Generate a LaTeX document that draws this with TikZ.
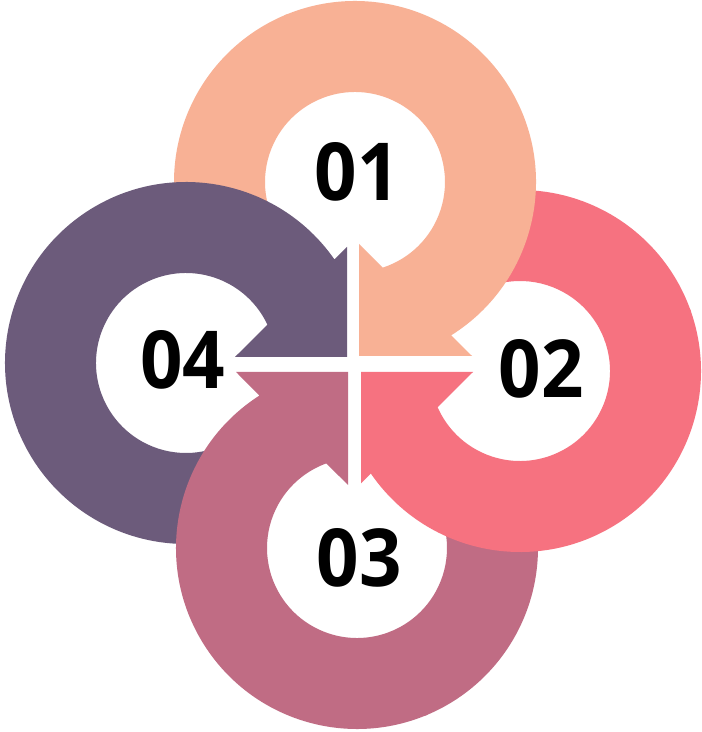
\documentclass[tikz,border=0pt]{standalone}
\usepackage{fontspec}
\usepackage{graphicx}
\setmainfont{Open Sans}
\usetikzlibrary{calc}
\definecolor{cpeach}{HTML}{F8B195}
\definecolor{cpink}{HTML}{F67280}
\definecolor{cberry}{HTML}{C06C84}
\definecolor{cplum}{HTML}{6C5B7B}
\newcommand{\numtxt}[1]{\scalebox{0.93}[1]{#1}}
\begin{document}
\begin{tikzpicture}[x=1pt,y=1pt,
  lbl/.style={font=\fontsize{80}{80}\selectfont\bfseries, text=black, inner sep=0pt}]
\fill[white] (0,0) rectangle (702,732);
\useasboundingbox (0,0) rectangle (702,732);
% ring centres
\coordinate (c1) at (355,550);
\coordinate (c2) at (520,361);
\coordinate (c3) at (357,184);
\coordinate (c4) at (186,369);
% ---------- tails (drawn first, hidden under the next ring) ----------
\fill[cpeach] ($(c1)+(112:181pt)$) arc[start angle=112,end angle=203,radius=181pt]
  -- ($(c1)+(203:90pt)$) arc[start angle=203,end angle=112,radius=90pt] -- cycle;
\fill[cpink] ($(c2)+(379:181pt)$) arc[start angle=379,end angle=470,radius=181pt]
  -- ($(c2)+(470:90pt)$) arc[start angle=470,end angle=379,radius=90pt] -- cycle;
\fill[cberry] ($(c3)+(292:181pt)$) arc[start angle=292,end angle=383,radius=181pt]
  -- ($(c3)+(383:90pt)$) arc[start angle=383,end angle=292,radius=90pt] -- cycle;
\fill[cplum] ($(c4)+(202:181pt)$) arc[start angle=202,end angle=293,radius=181pt]
  -- ($(c4)+(293:90pt)$) arc[start angle=293,end angle=202,radius=90pt] -- cycle;
% ---------- heads with arrow tips at the centre ----------
% 01
\fill[cpeach] ($(c1)+(-57.9:181pt)$) arc[start angle=-57.9,end angle=113,radius=181pt]
  -- ($(c1)+(113:90pt)$) arc[start angle=113,end angle=-72.1,radius=90pt]
  -- (359,488) -- (359,376) -- (472,376) -- cycle;
% 02
\fill[cpink] ($(c2)+(214.5:181pt)$) arc[start angle=214.5,end angle=380,radius=181pt]
  -- ($(c2)+(380:90pt)$) arc[start angle=380,end angle=203.8,radius=90pt]
  -- (473,360) -- (361,360) -- (361,248.7) -- cycle;
% 03
\fill[cberry] ($(c3)+(122.6:181pt)$) arc[start angle=122.6,end angle=293,radius=181pt]
  -- ($(c3)+(293:90pt)$) arc[start angle=293,end angle=109.9,radius=90pt]
  -- (348,247) -- (348,360) -- (236,360) -- cycle;
% 04
\fill[cplum] ($(c4)+(34.9:181pt)$) arc[start angle=34.9,end angle=203,radius=181pt]
  -- ($(c4)+(203:90pt)$) arc[start angle=203,end angle=25.25,radius=90pt]
  -- (235,375) -- (347,375) -- (347,485) -- cycle;
% ---------- labels ----------
\node[lbl] (n1) at (357,560) {\numtxt{01}};
\node[lbl] (n2) at (541,363) {\numtxt{02}};
\node[lbl] (n3) at (359,174.5) {\numtxt{03}};
\node[lbl] (n4) at (182.5,372) {\numtxt{04}};
\end{tikzpicture}
\end{document}
